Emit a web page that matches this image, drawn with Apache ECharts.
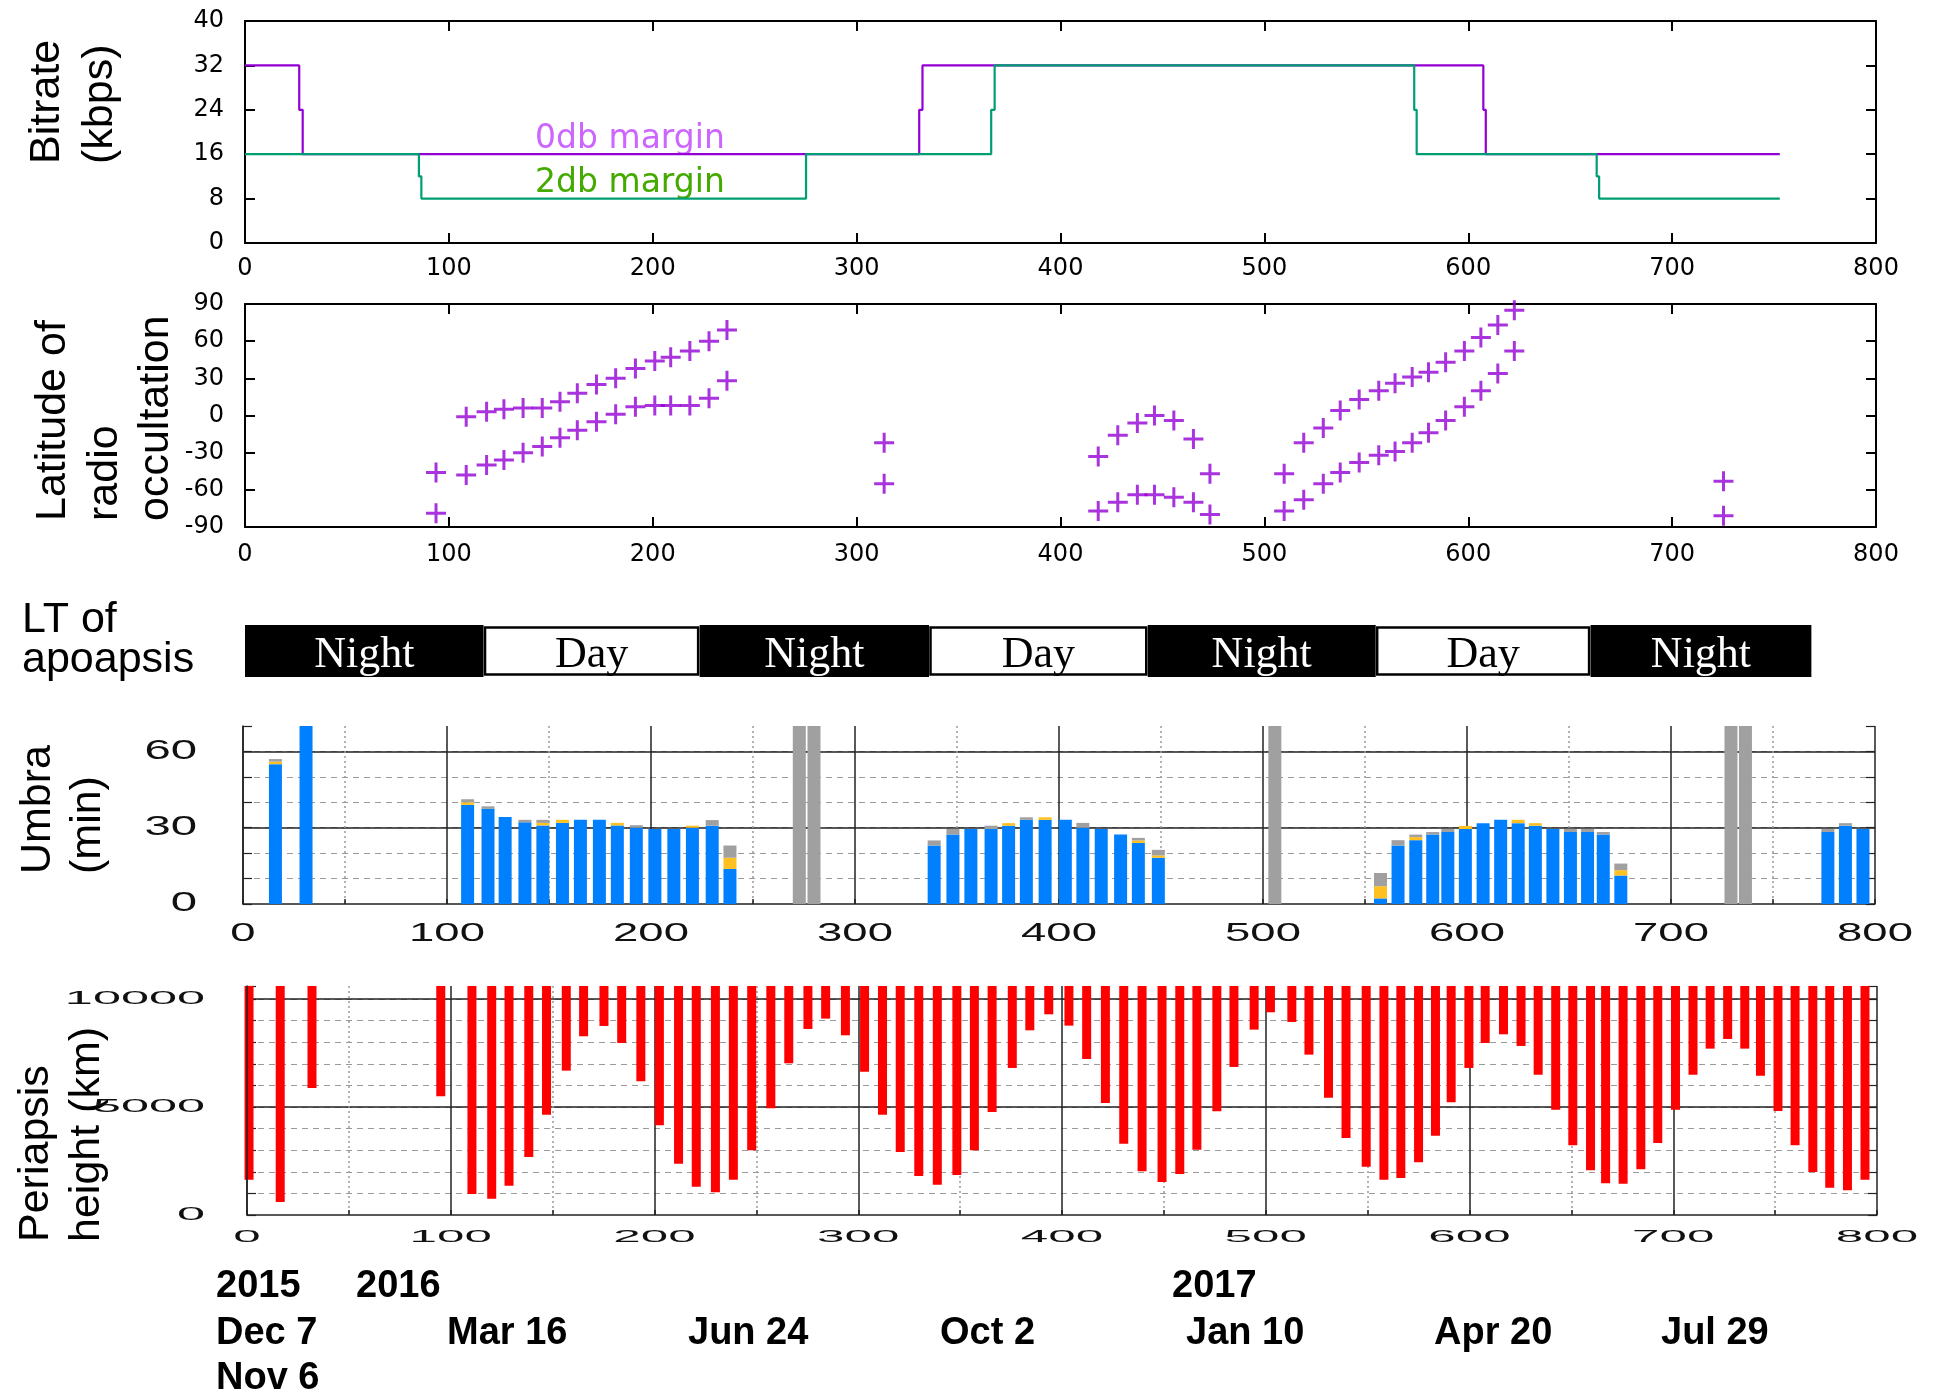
<!DOCTYPE html>
<html>
<head>
<meta charset="utf-8">
<script src="https://cdn.jsdelivr.net/npm/echarts@6/dist/echarts.min.js"></script>
<style>
  html, body { margin: 0; padding: 0; background: #fff; }
  #chart { width: 1937px; height: 1396px; }
</style>
</head>
<body>
<div id="chart"></div>
<script>
// ---------- data ----------
// days since orbit insertion (x axis for every panel)
const dayTicks = [0, 100, 200, 300, 400, 500, 600, 700, 800];

// downlink bitrate (kbps) for 0 dB and 2 dB link margins, as step changes
const rate0dbDays = [0, 26.6, 28.3, 330.7, 332.3, 607.4, 608.6, 752.8];
const rate0dbKbps = [32, 24, 16, 24, 32, 24, 16, 16];
const rate2dbDays = [0, 85.3, 86.5, 275.2, 366, 367.7, 573.5, 574.7, 663, 664.2, 752.8];
const rate2dbKbps = [16, 12, 8, 16, 24, 32, 24, 16, 12, 8, 8];

// latitude of radio occultation (deg), ingress / egress pair per orbit
const occultDays = [93.7, 108.5, 118.5, 127, 136.4, 145.8, 154.5, 163, 172.4, 181.8,
  191.5, 201, 208.8, 218.2, 227.6, 236.4, 313.5, 418.5, 428.1, 437.7,
  446.1, 455.6, 465.2, 473.3, 509.7, 519.3, 528.9, 537.2, 546.5, 556.1,
  564.1, 572.5, 580.5, 588.9, 598.1, 606.2, 614.5, 622.6, 725.2];
const occultLatUpper = [-46, -1, 3, 5, 6, 6, 11, 18, 25, 30,
  38, 44, 47, 52, 60, 69, -22, -33, -16, -6,
  0, -4, -19, -47, -47, -22, -10, 4, 13, 20,
  26, 31, 35, 43, 52, 63, 73, 85, -53];
const occultLatLower = [-79, -48, -40, -36, -30, -25, -18, -12, -5, 1,
  7, 8, 8, 8, 14, 28, -55, -77, -70, -64,
  -64, -66, -70, -80, -77, -68, -55, -46, -38, -32,
  -29, -22, -14, -4, 7, 20, 34, 52, -81];

// local time of apoapsis
const apoapsisPhases = ['Night', 'Day', 'Night', 'Day', 'Night', 'Day', 'Night'];
const apoapsisEdges = [0, 117, 223, 335.5, 442.8, 554.6, 660, 768.3];

// umbra duration (min) per orbit: umbra, penumbra margin, uncertain
const umbraDays = [15.9, 30.9, 110.1, 120.1, 128.5, 138.2, 147, 156.6, 165.4, 174.7,
  183.5, 192.8, 201.9, 211.2, 220.3, 230, 238.7, 272.7, 279.9, 338.8,
  348, 356.8, 366.7, 375.3, 384, 393.2, 403.1, 411.7, 420.7, 430.2,
  438.9, 448.7, 505.8, 557.6, 566.2, 574.9, 583.2, 590.6, 599.2, 607.9,
  616.5, 625.1, 633.5, 642.1, 650.7, 659.1, 666.8, 675.4, 729.4, 736.5,
  776.9, 785.5, 794.1];
const umbraBlue = [55, 80, 39, 37.4, 34.2, 32.1, 30.9, 31.9, 33.1, 33.1,
  30.9, 30, 29.5, 29.5, 30, 30.8, 13.8, 0, 0, 23,
  27.3, 29.5, 29.5, 30.8, 33.1, 33.1, 33.1, 30, 29.5, 27.3,
  24, 18.2, 0, 2.2, 23, 25.1, 27.3, 28.3, 29.5, 31.8,
  33.1, 31.8, 30.8, 29.5, 28.3, 28.3, 27.3, 11.2, 0, 0,
  28.3, 30.8, 29.5];
const umbraYellow = [1, 0, 1, 0, 0, 0, 1, 1.2, 0, 0,
  1, 0, 0, 0, 0.8, 0, 4.4, 0, 0, 0,
  0, 0, 0, 1, 0, 1, 0, 0, 0, 0,
  1, 0.9, 0, 4.8, 0, 1.2, 0, 0, 1.2, 0,
  0, 1.3, 1, 0, 0, 0, 0, 2.1, 0, 0,
  0, 0, 0];
const umbraGray = [1, 0, 1.2, 1, 0, 1, 1.2, 0, 0, 0,
  0, 1, 0, 0, 0, 2.2, 4.8, 80, 80, 2,
  2.2, 0, 1.3, 0, 1, 0, 0, 1.9, 0, 0,
  1, 2.2, 80, 5.2, 2.1, 1, 1, 1.2, 0, 0,
  0, 0, 0, 0, 1.2, 1.2, 1, 2.6, 80, 80,
  1.2, 1, 0];
const umbraTicks = [0, 30, 60];

// periapsis height (km) per orbit
const periDays = [1, 16.3, 31.9, 95.1, 110.4, 120.1, 128.6, 138.3, 147, 156.7,
  165.2, 175.2, 183.9, 193.3, 202.4, 211.8, 220.5, 229.9, 238.7, 247.7,
  257.1, 265.9, 275.3, 284, 293.7, 303.1, 311.9, 320.6, 329.7, 338.8,
  348.4, 357, 365.7, 375.6, 384.2, 393.5, 403.4, 412.1, 421.3, 430.3,
  439.3, 449.1, 457.8, 466.2, 476, 484.4, 494.3, 502.3, 512.8, 521.2,
  530.8, 539.4, 549.3, 558, 566.3, 575, 583.3, 591, 599.7, 607.7,
  616.7, 625.3, 633.7, 642.3, 650.7, 659.4, 666.8, 675.4, 684.1, 692.4,
  701.1, 709.7, 718.1, 726.7, 735.1, 742.8, 751.4, 759.8, 768.5, 776.8,
  785.5, 794.1];
const periHeight = [1636, 602, 5880, 5494, 972, 756, 1358, 2685, 4645, 6682,
  8272, 8750, 7963, 6188, 4151, 2377, 1312, 1049, 1636, 2994,
  4938, 7022, 8611, 9090, 8318, 6636, 4645, 2917, 1806, 1404,
  1852, 2994, 4769, 6806, 8549, 9290, 8765, 7222, 5185, 3302,
  2022, 1528, 1898, 3025, 4799, 6852, 8580, 9383, 8935, 7423,
  5432, 3565, 2238, 1636, 1713, 2438, 3673, 5216, 6806, 7963,
  8364, 7824, 6497, 4877, 3225, 2068, 1466, 1451, 2114, 3333,
  4877, 6497, 7701, 8148, 7701, 6451, 4815, 3225, 1991, 1265,
  1142, 1636];
const periTicks = [0, 5000, 10000];

// calendar annotations under the time axis
const yearLabels = ['2015', '2016', '2017'];
const dateLabels = ['Dec 7', 'Mar 16', 'Jun 24', 'Oct 2', 'Jan 10', 'Apr 20', 'Jul 29'];
const extraDateLabel = 'Nov 6';

// ---------- helpers ----------
const zip = (xs, ys) => xs.map((x, i) => [x, ys[i]]);
const GNU_FONT = 'DejaVu Sans';
const SANS = 'Liberation Sans, Arial, sans-serif';
const PLUS = 'path://M8.5,0H11.5V8.5H20V11.5H11.5V20H8.5V11.5H0V8.5H8.5Z';
const UMBRA_COLORS = ['#0080ff', '#ffc020', '#a0a0a0'];

// gnuplot-style framed axes (ticks inward on all four sides)
function frameX(grid, position, showLabel, margin) {
  return {
    gridIndex: grid, type: 'value', min: 0, max: 800, interval: 100, position,
    axisLine: { onZero: false, lineStyle: { color: '#000', width: 2 } },
    axisTick: { inside: true, length: 10, lineStyle: { color: '#000', width: 2 } },
    axisLabel: { show: showLabel, margin, fontFamily: GNU_FONT, fontSize: 24, color: '#000' },
    splitLine: { show: false }
  };
}
function frameY(grid, position, min, max, interval, showLabel) {
  return {
    gridIndex: grid, type: 'value', min, max, interval, position,
    axisLine: { onZero: false, lineStyle: { color: '#000', width: 2 } },
    axisTick: { inside: true, length: 10, lineStyle: { color: '#000', width: 2 } },
    axisLabel: { show: showLabel, margin: 21, fontFamily: GNU_FONT, fontSize: 24, color: '#000' },
    splitLine: { show: false }
  };
}
// time axis of the lower two panels: solid lines every 100 days, dotted every 50
function gridX(grid) {
  return {
    gridIndex: grid, type: 'value', min: 0, max: 800, interval: 100, position: 'bottom',
    axisLine: { onZero: false, lineStyle: { color: '#222', width: 1.5 } },
    axisTick: { inside: true, length: 5, lineStyle: { color: '#222', width: 1.5 } },
    minorTick: { show: true, splitNumber: 2, length: 5, lineStyle: { color: '#222', width: 1.5 } },
    axisLabel: { show: false },
    splitLine: { show: true, lineStyle: { color: '#222', width: 1.5 } },
    minorSplitLine: { show: true, lineStyle: { color: '#999', width: 1.5, type: [2, 3] } }
  };
}
function dashedY(grid, max, interval, position, withLine) {
  return {
    gridIndex: grid, type: 'value', min: 0, max, interval, position,
    axisLine: { show: withLine, onZero: false, lineStyle: { color: '#222', width: 1.5 } },
    axisTick: { show: true, inside: true, length: 9, lineStyle: { color: '#222', width: 1.2 } },
    axisLabel: { show: false },
    splitLine: position === 'left' ? {
      show: true, showMinLine: false, showMaxLine: false,
      lineStyle: { color: '#9a9a9a', width: 1.2, type: [6, 5] }
    } : { show: false }
  };
}
function solidY(grid, max, interval) {
  return {
    gridIndex: grid, type: 'value', min: 0, max, interval, position: 'left',
    axisLine: { show: false }, axisTick: { show: false }, axisLabel: { show: false },
    splitLine: { show: true, showMinLine: false, showMaxLine: false,
      lineStyle: { color: '#222', width: 1.5 } }
  };
}
// horizontally stretched tick labels of the lower panels
function stretchedLabels(xi, yi, values, onY, fontSize, scaleX, dx, dy) {
  return {
    type: 'custom', xAxisIndex: xi, yAxisIndex: yi, clip: false, silent: true, z: 6,
    data: values.map(v => (onY ? [0, v] : [v, 0])),
    renderItem(params, api) {
      const v = onY ? api.value(1) : api.value(0);
      const p = api.coord([api.value(0), api.value(1)]);
      return {
        type: 'text', x: p[0] + dx, y: p[1] + dy, scaleX,
        style: { text: String(v), fontFamily: SANS, fontSize, fill: '#111',
          align: onY ? 'right' : 'center', verticalAlign: 'middle' }
      };
    }
  };
}

// ---------- layout of the five panels ----------
const grids = [
  { left: 245, width: 1631, top: 21, height: 222 },   // bitrate
  { left: 245, width: 1631, top: 304, height: 223 },  // occultation latitude
  { left: 245, width: 1631, top: 625, height: 52 },   // LT of apoapsis
  { left: 243, width: 1632, top: 726, height: 178 },  // umbra
  { left: 247, width: 1630, top: 986, height: 229 }   // periapsis height
];

const xAxis = [
  frameX(0, 'bottom', true, 14),   // 0
  frameX(0, 'top', false, 0),      // 1
  frameX(1, 'bottom', true, 16),   // 2
  frameX(1, 'top', false, 0),      // 3
  { gridIndex: 2, type: 'value', min: 0, max: 800, show: false }, // 4
  gridX(3),                        // 5
  gridX(4)                         // 6
];
const yAxis = [
  frameY(0, 'left', 0, 40, 8, true),     // 0
  frameY(0, 'right', 0, 40, 8, false),   // 1
  frameY(1, 'left', -90, 90, 30, true),  // 2
  frameY(1, 'right', -90, 90, 30, false),// 3
  { gridIndex: 2, type: 'value', min: 0, max: 1, show: false }, // 4
  dashedY(3, 70, 10, 'left', true),      // 5
  solidY(3, 70, 30),                     // 6
  dashedY(3, 70, 10, 'right', false),    // 7
  dashedY(4, 10600, 1000, 'left', false),// 8
  solidY(4, 10600, 5000),                // 9
  dashedY(4, 10600, 1000, 'right', false), // 10
  Object.assign(dashedY(4, 10600, 10000, 'left', true), { z: 4, axisTick: { show: false } }) // 11
];
yAxis[11].splitLine = { show: false };

const series = [
  // bitrate
  { type: 'line', xAxisIndex: 0, yAxisIndex: 0, step: 'end', showSymbol: false,
    lineStyle: { color: '#9400d3', width: 2.2 }, data: zip(rate0dbDays, rate0dbKbps) },
  { type: 'line', xAxisIndex: 0, yAxisIndex: 0, step: 'end', showSymbol: false,
    lineStyle: { color: '#009e73', width: 2.2 }, data: zip(rate2dbDays, rate2dbKbps) },
  // occultation latitude
  { type: 'scatter', xAxisIndex: 2, yAxisIndex: 2, symbol: PLUS, symbolSize: 20,
    itemStyle: { color: '#9400d3' }, data: zip(occultDays, occultLatUpper) },
  { type: 'scatter', xAxisIndex: 2, yAxisIndex: 2, symbol: PLUS, symbolSize: 20,
    itemStyle: { color: '#9400d3' }, data: zip(occultDays, occultLatLower) },
  // local time of apoapsis
  { type: 'custom', xAxisIndex: 4, yAxisIndex: 4, silent: true,
    data: apoapsisPhases.map((p, i) => [apoapsisEdges[i], apoapsisEdges[i + 1]]),
    renderItem(params, api) {
      const a = api.coord([api.value(0), 1]);
      const b = api.coord([api.value(1), 0]);
      const phase = apoapsisPhases[params.dataIndex];
      const night = phase === 'Night';
      return { type: 'group', children: [
        { type: 'rect',
          shape: night ? { x: a[0], y: a[1], width: b[0] - a[0], height: b[1] - a[1] }
                       : { x: a[0] + 1.5, y: a[1] + 2.5, width: b[0] - a[0] - 3, height: b[1] - a[1] - 5 },
          style: night ? { fill: '#000' } : { fill: '#fff', stroke: '#000', lineWidth: 2.5 } },
        { type: 'text', x: (a[0] + b[0]) / 2, y: (a[1] + b[1]) / 2 + 4,
          style: { text: phase, fontFamily: 'Liberation Serif, Times New Roman, serif', fontSize: 44,
            fill: night ? '#fff' : '#000', align: 'center', verticalAlign: 'middle' } }
      ] };
    } },
  // umbra duration: umbra, penumbra margin and uncertainty stacked per orbit
  { type: 'custom', xAxisIndex: 5, yAxisIndex: 5, silent: true, clip: true, z: 3,
    data: umbraDays.map((d, i) => [d, umbraBlue[i], umbraYellow[i], umbraGray[i]]),
    renderItem(params, api) {
      const x = api.value(0);
      const top = params.coordSys.y;
      const parts = [api.value(1), api.value(2), api.value(3)];
      const children = [];
      let base = 0;
      parts.forEach((v, k) => {
        if (v > 0) {
          const p0 = api.coord([x, base]);
          const p1 = api.coord([x, base + v]);
          const y1 = Math.max(p1[1], top);
          if (y1 < p0[1]) {
            children.push({ type: 'rect',
              shape: { x: p0[0] - 6.5, y: y1, width: 13, height: p0[1] - y1 },
              style: { fill: UMBRA_COLORS[k] } });
          }
        }
        base += v;
      });
      return { type: 'group', children };
    } },
  stretchedLabels(5, 5, umbraTicks, true, 27, 1.75, -46, 0),
  stretchedLabels(5, 5, dayTicks, false, 26, 1.75, 0, 30),
  // periapsis height: bars hang from the top of the frame down to the value
  { type: 'custom', xAxisIndex: 6, yAxisIndex: 8, silent: true, z: 3,
    data: zip(periDays, periHeight),
    renderItem(params, api) {
      const p = api.coord([api.value(0), api.value(1)]);
      const top = params.coordSys.y;
      return { type: 'rect', shape: { x: p[0] - 4.5, y: top, width: 9, height: p[1] - top },
        style: { fill: '#ff0000' } };
    } },
  stretchedLabels(6, 8, periTicks, true, 18, 2.8, -42, 0),
  stretchedLabels(6, 8, dayTicks, false, 17, 2.9, 0, 22)
];

// axis titles and annotations
function vTitle(x, y, text, lineHeight) {
  return { type: 'text', x, y, rotation: Math.PI / 2,
    style: { text, fontFamily: SANS, fontSize: 43, lineHeight, fill: '#000',
      align: 'left', verticalAlign: 'middle' } };
}
function label(x, y, text, font, color, align) {
  return { type: 'text', x, y,
    style: { text, font, fill: color, align: align || 'left', verticalAlign: 'middle' } };
}
const dateFont = 'bold 38px ' + SANS;
const graphic = [
  vTitle(74, 164, 'Bitrate\n(kbps)', 53),
  vTitle(105, 521, 'Latitude of\nradio\noccultation', 51.5),
  vTitle(63, 874, 'Umbra\n(min)', 50),
  vTitle(62, 1242, 'Periapsis\nheight (km)', 51),
  label(22, 620, 'LT of', '43px ' + SANS, '#000'),
  label(22, 660, 'apoapsis', '43px ' + SANS, '#000'),
  label(630, 139, '0db margin', '33px ' + GNU_FONT, '#cc66ff', 'center'),
  label(630, 183, '2db margin', '33px ' + GNU_FONT, '#44aa00', 'center'),
  label(216, 1287, yearLabels[0], dateFont, '#000'),
  label(356, 1287, yearLabels[1], dateFont, '#000'),
  label(1172, 1287, yearLabels[2], dateFont, '#000'),
  label(216, 1334, dateLabels[0], dateFont, '#000'),
  label(447, 1334, dateLabels[1], dateFont, '#000'),
  label(688, 1334, dateLabels[2], dateFont, '#000'),
  label(940, 1334, dateLabels[3], dateFont, '#000'),
  label(1186, 1334, dateLabels[4], dateFont, '#000'),
  label(1434, 1334, dateLabels[5], dateFont, '#000'),
  label(1661, 1334, dateLabels[6], dateFont, '#000'),
  label(216, 1379, extraDateLabel, dateFont, '#000')
];

const chart = echarts.init(document.getElementById('chart'), null, { renderer: 'canvas' });
chart.setOption({
  animation: false,
  backgroundColor: '#fff',
  textStyle: { fontFamily: SANS },
  grid: grids,
  xAxis,
  yAxis,
  series,
  graphic
});
</script>
</body>
</html>
